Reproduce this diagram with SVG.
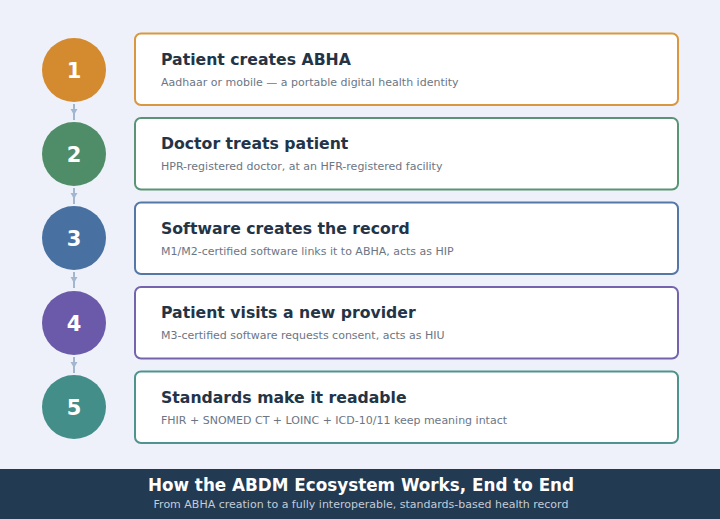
<svg xmlns="http://www.w3.org/2000/svg" width="720" height="519" viewBox="0 0 720 519">
<defs>
<style>
.card{fill:#ffffff;stroke-width:2}
.num{font-family:"DejaVu Sans",sans-serif;font-weight:bold;font-size:21px;fill:#ffffff;text-anchor:middle}
.t{font-family:"DejaVu Sans",sans-serif;font-weight:bold;font-size:15.7px;fill:#243447}
.s{font-family:"DejaVu Sans",sans-serif;font-size:11px;fill:#6b7684}
.conn{stroke:#a3b6cf;stroke-width:2;fill:none}
.head{fill:#a3b6cf}
</style>
</defs>
<rect x="0" y="0" width="720" height="519" fill="#eef1f9"/>
<g id="connectors">
<line class="conn" x1="74" y1="104" x2="74" y2="120"/>
<path class="head" d="M70.5,109 L77.5,109 L74,115 z"/>
<line class="conn" x1="74" y1="188" x2="74" y2="204"/>
<path class="head" d="M70.5,193 L77.5,193 L74,199 z"/>
<line class="conn" x1="74" y1="272" x2="74" y2="288"/>
<path class="head" d="M70.5,277 L77.5,277 L74,283 z"/>
<line class="conn" x1="74" y1="357" x2="74" y2="373"/>
<path class="head" d="M70.5,362 L77.5,362 L74,368 z"/>
</g>
<g id="step1">
<circle cx="74" cy="70" r="32" fill="#d48a2f"/>
<text class="num" x="74" y="77.5">1</text>
<rect class="card" x="135" y="33.5" width="543" height="71.5" rx="6" stroke="#d9973f"/>
<text class="t" x="161" y="65">Patient creates ABHA</text>
<text class="s" x="161" y="86">Aadhaar or mobile — a portable digital health identity</text>
</g>
<g id="step2">
<circle cx="74" cy="154" r="32" fill="#4e8d68"/>
<text class="num" x="74" y="161.5">2</text>
<rect class="card" x="135" y="118" width="543" height="71.5" rx="6" stroke="#5a9475"/>
<text class="t" x="161" y="149">Doctor treats patient</text>
<text class="s" x="161" y="170">HPR-registered doctor, at an HFR-registered facility</text>
</g>
<g id="step3">
<circle cx="74" cy="238" r="32" fill="#4870a1"/>
<text class="num" x="74" y="245.5">3</text>
<rect class="card" x="135" y="202.5" width="543" height="71.5" rx="6" stroke="#5477a6"/>
<text class="t" x="161" y="234">Software creates the record</text>
<text class="s" x="161" y="255">M1/M2-certified software links it to ABHA, acts as HIP</text>
</g>
<g id="step4">
<circle cx="74" cy="323" r="32" fill="#6b5aa9"/>
<text class="num" x="74" y="330.5">4</text>
<rect class="card" x="135" y="287" width="543" height="71.5" rx="6" stroke="#7563ad"/>
<text class="t" x="161" y="318">Patient visits a new provider</text>
<text class="s" x="161" y="339">M3-certified software requests consent, acts as HIU</text>
</g>
<g id="step5">
<circle cx="74" cy="407" r="32" fill="#448e8a"/>
<text class="num" x="74" y="414.5">5</text>
<rect class="card" x="135" y="371.5" width="543" height="71.5" rx="6" stroke="#4f938e"/>
<text class="t" x="161" y="403">Standards make it readable</text>
<text class="s" x="161" y="424">FHIR + SNOMED CT + LOINC + ICD-10/11 keep meaning intact</text>
</g>
<g id="footer">
<rect x="0" y="469" width="720" height="50" fill="#223a52"/>
<text x="361" y="491" text-anchor="middle" style="font-family:'DejaVu Sans',sans-serif;font-weight:bold;font-size:16.8px;fill:#ffffff">How the ABDM Ecosystem Works, End to End</text>
<text x="361" y="508" text-anchor="middle" style="font-family:'DejaVu Sans',sans-serif;font-size:11px;fill:#c3ccd8">From ABHA creation to a fully interoperable, standards-based health record</text>
</g>
</svg>
